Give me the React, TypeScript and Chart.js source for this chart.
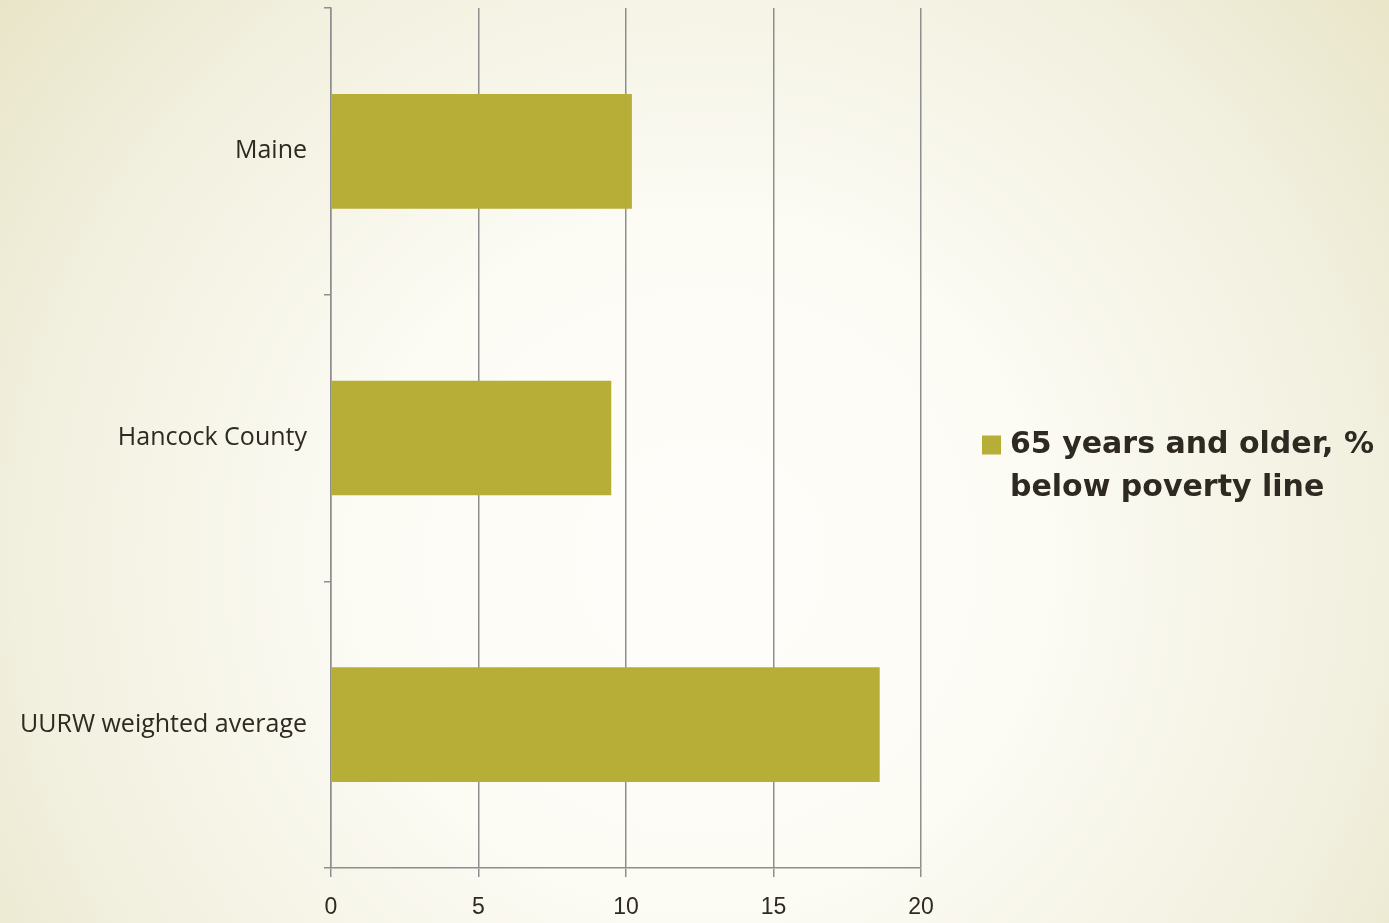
import React, { useEffect, useRef } from "react";
import { Chart, registerables } from "chart.js";

Chart.register(...registerables);

const categories = ["Maine", "Hancock County", "UURW weighted average"];
const seriesLabel = "65 years and older, % below poverty line";
const values = [10.2, 9.5, 18.6];
const xTicks = [0, 5, 10, 15, 20];

const BAR_COLOR = "#b7ae37";
const TEXT_COLOR = "#2e2a22";
const GRID_COLOR = "#8e8e8e";

const backgroundPlugin = {
  id: "bgGradient",
  beforeDraw(chart: any) {
    const { ctx, width, height } = chart;
    ctx.save();
    const g = ctx.createRadialGradient(700, 560, 50, 700, 560, 900);
    g.addColorStop(0, "#fefdf9");
    g.addColorStop(0.35, "#fcfbf4");
    g.addColorStop(0.75, "#f1efdd");
    g.addColorStop(1, "#e8e5c8");
    ctx.fillStyle = g;
    ctx.fillRect(0, 0, width, height);
    ctx.restore();
  },
};

const legendPlugin = {
  id: "sideLegend",
  afterDraw(chart: any) {
    const ds = chart.data.datasets[0];
    const ctx = chart.ctx;
    ctx.save();
    ctx.font = "bold 30px 'DejaVu Sans', sans-serif";
    const maxW = 385;
    const words = String(ds.label).split(" ");
    const lines: string[] = [];
    let cur = "";
    for (const w of words) {
      const t = cur ? cur + " " + w : w;
      if (ctx.measureText(t).width > maxW && cur) {
        lines.push(cur);
        cur = w;
      } else cur = t;
    }
    if (cur) lines.push(cur);
    const x0 = 982;
    const boxSize = 19;
    const textX = 1010;
    const lineH = 43;
    const firstCenter = 445;
    ctx.fillStyle = ds.backgroundColor;
    ctx.fillRect(x0, firstCenter - boxSize / 2, boxSize, boxSize);
    ctx.fillStyle = TEXT_COLOR;
    ctx.textBaseline = "middle";
    ctx.textAlign = "left";
    lines.forEach((l, i) => ctx.fillText(l, textX, firstCenter + i * lineH));
    ctx.restore();
  },
};

export default function App() {
  const ref = useRef<HTMLCanvasElement | null>(null);
  useEffect(() => {
    document.body.style.margin = "0";
    const canvas = ref.current!;
    const chart = new Chart(canvas, {
      type: "bar",
      data: {
        labels: categories,
        datasets: [
          {
            label: seriesLabel,
            data: values,
            backgroundColor: BAR_COLOR,
            categoryPercentage: 0.8,
            barPercentage: 0.5,
          },
        ],
      },
      options: {
        indexAxis: "y",
        animation: false,
        responsive: false,
        maintainAspectRatio: false,
        layout: { padding: { left: 0, right: 468, top: 8, bottom: 0 } },
        plugins: {
          legend: { display: false },
          tooltip: { enabled: false },
        },
        scales: {
          x: {
            min: 0,
            max: 20,
            afterBuildTicks(scale: any) {
              scale.ticks = xTicks.map((v) => ({ value: v }));
            },
            afterFit(scale: any) {
              scale.height = 55;
            },
            grid: {
              color: GRID_COLOR,
              lineWidth: 1.5,
              tickLength: 9,
              drawOnChartArea: true,
            },
            border: { color: GRID_COLOR, width: 1.5 },
            ticks: {
              color: TEXT_COLOR,
              padding: 17,
              font: { family: "'Liberation Sans', sans-serif", size: 23 },
            },
          },
          y: {
            offset: true,
            afterFit(scale: any) {
              scale.width = 331;
              scale.paddingTop = 0;
              scale.paddingBottom = 0;
            },
            grid: {
              offset: true,
              drawOnChartArea: false,
              color: GRID_COLOR,
              lineWidth: 1.5,
              tickLength: 7,
            },
            border: { color: GRID_COLOR, width: 1.5 },
            ticks: {
              color: TEXT_COLOR,
              padding: 17,
              font: { family: "'Open Sans', 'DejaVu Sans', sans-serif", size: 25 },
            },
          },
        },
      },
      plugins: [backgroundPlugin, legendPlugin],
    });
    return () => chart.destroy();
  }, []);
  return <canvas ref={ref} width={1389} height={923} style={{ display: "block" }} />;
}
